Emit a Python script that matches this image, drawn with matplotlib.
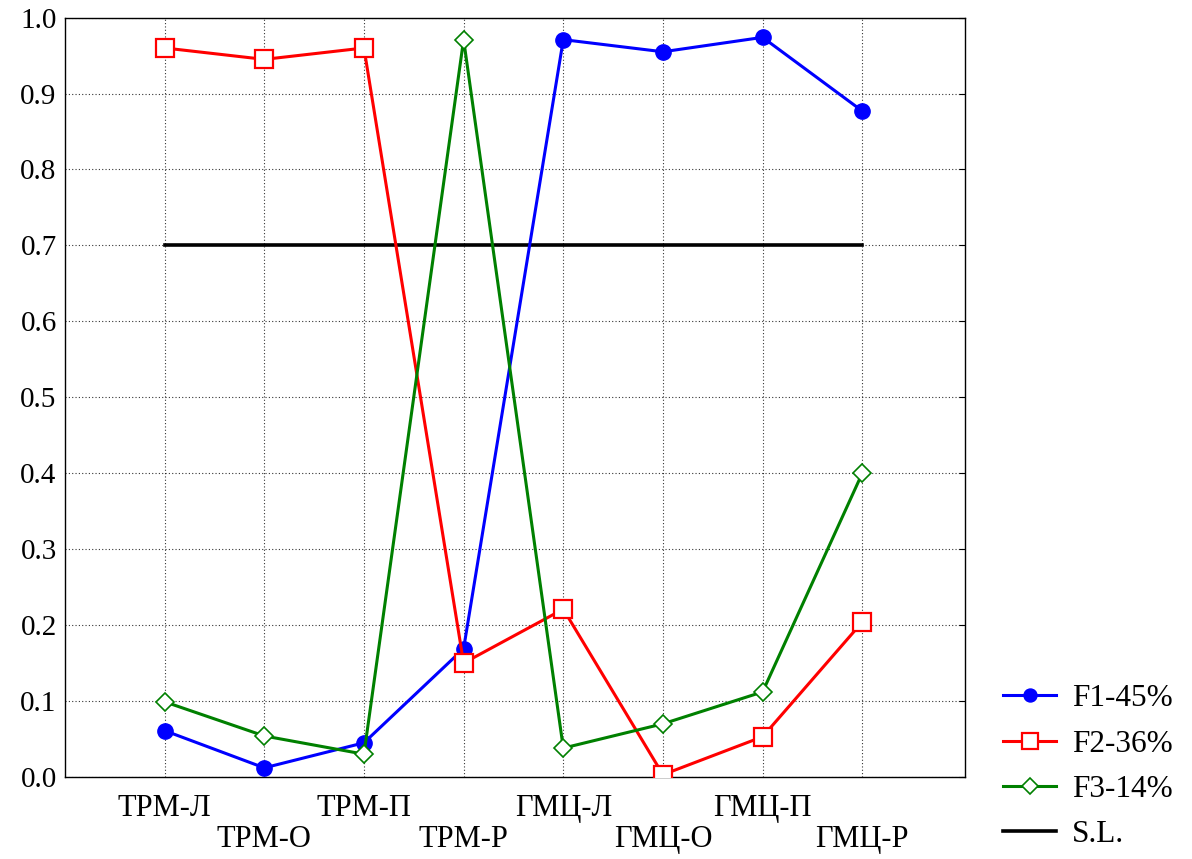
import matplotlib.pyplot as plt
import numpy as np

plt.rcParams.update({
    "font.family": "serif",
    "font.serif": ["Liberation Serif", "DejaVu Serif"],
})

categories = ['ТРМ-Л', 'ТРМ-О', 'ТРМ-П', 'ТРМ-Р', 'ГМЦ-Л', 'ГМЦ-О', 'ГМЦ-П', 'ГМЦ-Р']
f1 = [0.061, 0.012, 0.045, 0.169, 0.971, 0.955, 0.974, 0.877]
f2 = [0.960, 0.945, 0.960, 0.150, 0.221, 0.003, 0.053, 0.204]
f3 = [0.099, 0.054, 0.030, 0.971, 0.038, 0.070, 0.112, 0.400]
sl = 0.7
series_names = ['F1-45%', 'F2-36%', 'F3-14%', 'S.L.']

x = np.arange(len(categories))

fig = plt.figure(figsize=(11.92, 8.59), dpi=100)
ax = fig.add_axes([0.0545, 0.0955, 0.755, 0.884])

ax.plot(x, f1, color='blue', lw=2.2, marker='o', ms=11,
        mfc='blue', mec='blue', label=series_names[0], zorder=3)
ax.plot(x, f2, color='red', lw=2.2, marker='s', ms=13,
        mfc='white', mec='red', mew=1.6, label=series_names[1], zorder=3)
ax.plot(x, f3, color='green', lw=2.2, marker='D', ms=9,
        mfc='white', mec='green', mew=1.2, label=series_names[2], zorder=3)
ax.plot([x[0], x[-1]], [sl, sl], color='black', lw=2.6, label=series_names[3], zorder=2)

ax.set_xlim(-1, 8.03)
ax.set_ylim(0, 1.0)
yt = np.arange(0, 1.01, 0.1)
ax.set_yticks(yt)
ax.set_yticklabels([f'{v:.1f}' for v in yt], fontsize=21)

ax.set_xticks(x)
labels = [c if i % 2 == 0 else '\n' + c for i, c in enumerate(categories)]
ax.set_xticklabels(labels, fontsize=22, linespacing=1.1)
ax.tick_params(axis='x', length=0, pad=12)
ax.tick_params(axis='y', direction='in', length=4, right=True, left=False, pad=6)

ax.grid(True, linestyle=(0, (1, 2)), color='black', lw=0.8, alpha=0.8)
ax.set_axisbelow(True)
for s in ax.spines.values():
    s.set_linewidth(1.0)

leg = ax.legend(loc='lower left', bbox_to_anchor=(1.011, -0.132), frameon=False,
                fontsize=22.5, handlelength=1.7, labelspacing=0.52, handletextpad=0.5,
                markerscale=0.85)

fig.savefig('out.png', dpi=100)
